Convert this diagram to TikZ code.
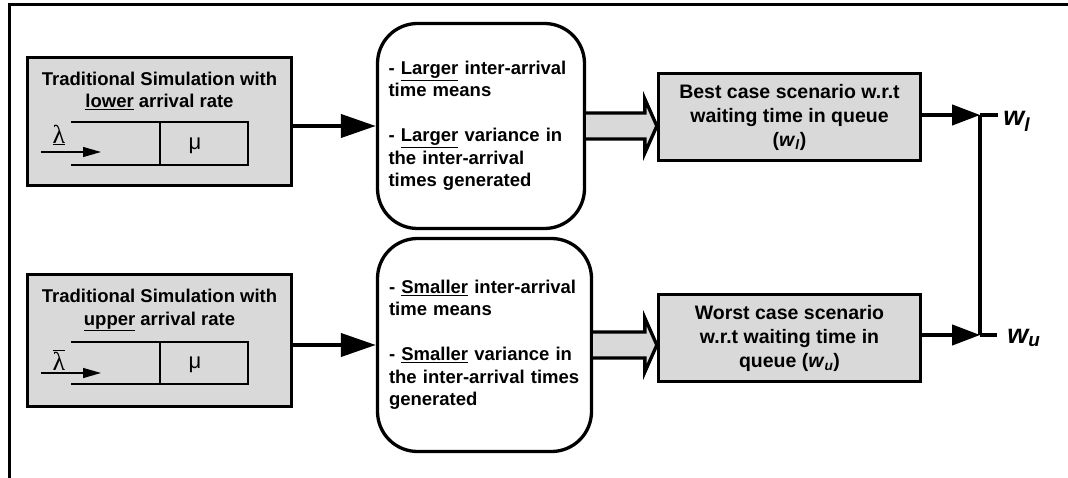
\documentclass[tikz,border=0pt]{standalone}
\usepackage{fontspec}
\setmainfont{Liberation Sans}
\newfontfamily\greekfont{Liberation Serif}
\usetikzlibrary{arrows.meta,calc}

\definecolor{boxgray}{gray}{0.85}
\newcommand{\boxtext}{\fontsize{18.5}{22.5}\selectfont\bfseries}
\newcommand{\casetext}{\fontsize{19.5}{24}\selectfont\bfseries}
\newcommand{\outtext}{\fontsize{27}{30}\selectfont\bfseries\itshape}

\tikzset{
	simbox/.style={draw, line width=3.3pt, fill=boxgray, minimum width=264pt},
	notebox/.style={draw, line width=3.3pt, rounded corners=40pt, inner sep=0pt, align=left, font=\boxtext},
	casebox/.style={draw, line width=3.3pt, fill=boxgray, minimum width=262pt, minimum height=87pt, align=center, font=\casetext},
	bigarrow/.style={line width=4pt, -{Triangle[length=35pt,width=23pt]}},
	outarrow/.style={line width=4pt, -{Triangle[length=28pt,width=20pt]}},
	fatarrow/.style={line width=3.3pt, fill=boxgray, line join=miter},
	queueline/.style={line width=1.2pt},
	lamarrow/.style={line width=1.3pt, -{Triangle[length=18pt,width=10pt]}},
}

\begin{document}
\begin{tikzpicture}[x=1pt,y=-1pt]
		\useasboundingbox (0,0) rectangle (1068,478);
		\draw[line width=3pt] (9,478) -- (9,5) -- (1068,5);

		\node[simbox, minimum height=128pt] (lowsim) at (159.5,121.5) {};
		\node[font=\boxtext, align=center] (lowtitle) at (159.5,91) {Traditional Simulation with\\\underline{lower} arrival rate};
		\draw[queueline] (71,122) -- (248,122) -- (248,165) -- (71,165);
		\draw[queueline] (160,122) -- (160,165);
		\draw[lamarrow] (41,152) -- (101,152);
		\node[font=\fontsize{26}{28}\selectfont\greekfont] (lowlam) at (59,135) {\underline{λ}};
		\node[font=\fontsize{22}{24}\selectfont] (lowmu) at (195,146) {μ};

		\node[simbox, minimum height=132pt] (uppsim) at (159.5,340.5) {};
		\node[font=\boxtext, align=center] (upptitle) at (159.5,310) {Traditional Simulation with\\\underline{upper} arrival rate};
		\draw[queueline] (71,342) -- (248,342) -- (248,384) -- (71,384);
		\draw[queueline] (160,342) -- (160,384);
		\draw[lamarrow] (41,373) -- (101,373);
		\node[font=\fontsize{26}{28}\selectfont\greekfont] (upplam) at (59,360) {$\overline{\hbox{λ}}$};
		\node[font=\fontsize{22}{24}\selectfont] (uppmu) at (195,365) {μ};

		\node[notebox, minimum width=207pt, minimum height=205pt, text width=185pt] (lownote) at (481,126) {- \underline{Larger} inter-arrival\\time means\\[22.5pt]- \underline{Larger} variance in\\the inter-arrival\\times generated};
		\node[notebox, minimum width=214pt, minimum height=213pt, text width=191pt] (uppnote) at (484.5,345) {- \underline{Smaller} inter-arrival\\time means\\[22.5pt]- \underline{Smaller} variance in\\the inter-arrival times\\generated};

		\draw[bigarrow] (lowsim.east |- lownote.west) -- (lownote.west);
		\draw[bigarrow] (uppsim.east |- uppnote.west) -- (uppnote.west);

		\node[casebox] (best) at (789.5,117) {Best case scenario w.r.t\\waiting time in queue\\(\textit{w}\textsubscript{\textit{l}})};
		\node[casebox] (worst) at (789.5,338) {Worst case scenario\\w.r.t waiting time in\\queue (\textit{w}\textsubscript{\textit{u}})};

		\coordinate (bestin) at (lownote.east -| best.west);
		\draw[fatarrow] ($(lownote.east)+(0,-13)$) -- ($(bestin)+(-12,-13)$) -- ($(bestin)+(-12,-27)$) -- (bestin) -- ($(bestin)+(-12,27)$) -- ($(bestin)+(-12,13)$) -- ($(lownote.east)+(0,13)$);
		\coordinate (worstin) at (uppnote.east -| worst.west);
		\draw[fatarrow] ($(uppnote.east)+(0,-13)$) -- ($(worstin)+(-12,-13)$) -- ($(worstin)+(-12,-27)$) -- (worstin) -- ($(worstin)+(-12,27)$) -- ($(worstin)+(-12,13)$) -- ($(uppnote.east)+(0,13)$);

		\coordinate (jl) at ($(best.east)+(58,-2)$);
		\coordinate (ju) at ($(worst.east)+(58,-3)$);
		\draw[outarrow] (best.east |- jl) -- (jl);
		\draw[outarrow] (worst.east |- ju) -- (ju);
		\draw[line width=4pt] (jl) -- (ju);
		\draw[line width=4pt] (jl) -- ++(18,0) node[anchor=base west, yshift=-11pt, font=\outtext] (wl) {w\textsubscript{l}};
		\draw[line width=4pt] (ju) -- ++(17,0) node[anchor=base west, xshift=5pt, yshift=-8pt, font=\outtext] (wu) {w\textsubscript{u}};
	\end{tikzpicture}
\end{document}
